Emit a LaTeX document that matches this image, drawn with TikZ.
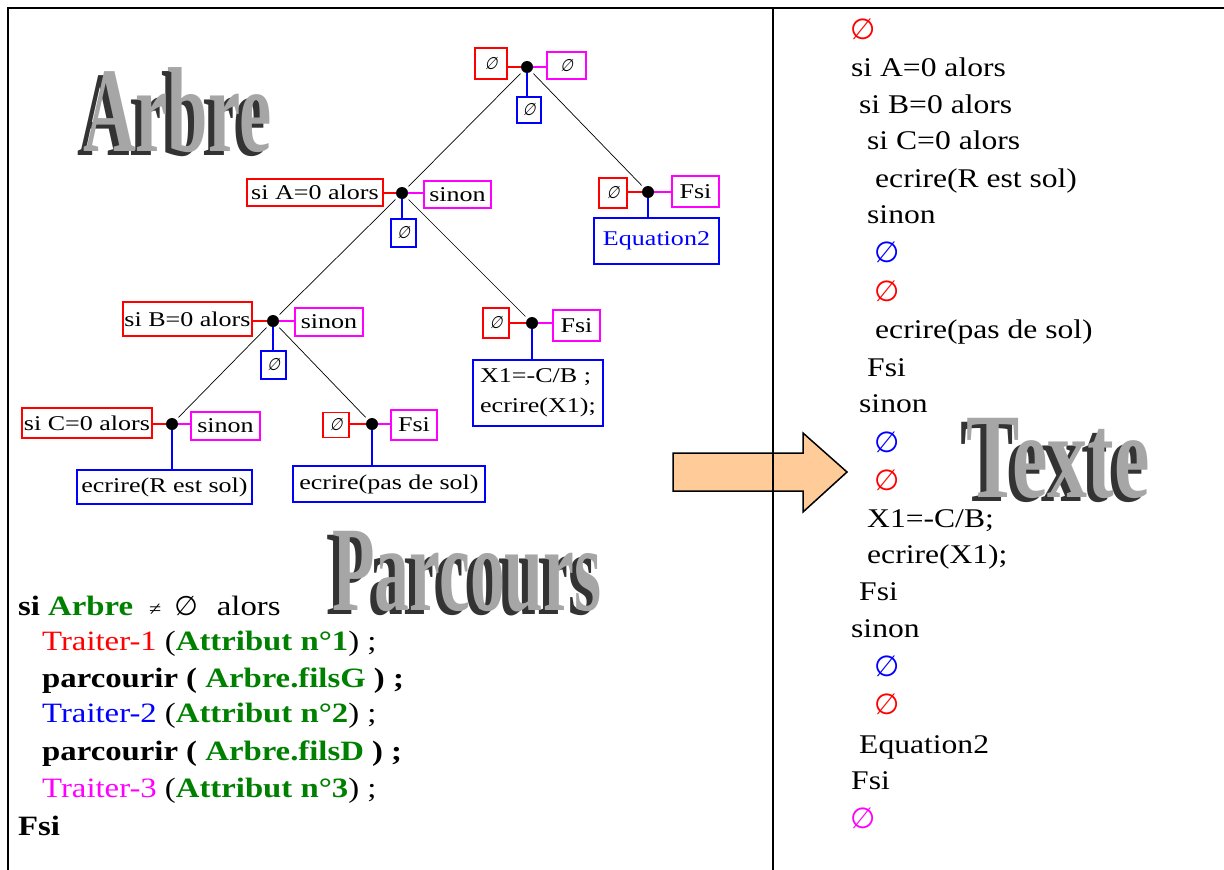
\documentclass[tikz,border=0pt]{standalone}
\usepackage{fontspec}
\usepackage{graphicx}
\setmainfont{Liberation Serif}[FakeStretch=1.17]
\newfontfamily\treefont{Liberation Serif}[FakeStretch=1.24]
\newfontfamily\symf{DejaVu Sans}
\newfontfamily\treeempty{DejaVu Sans}[FakeSlant=0.25,FakeStretch=0.85]
\newfontfamily\wafont{Liberation Serif}
\definecolor{cgreen}{RGB}{0,128,0}
\definecolor{cred}{RGB}{255,0,0}
\definecolor{cblue}{RGB}{0,0,255}
\definecolor{cmag}{RGB}{255,0,255}
\definecolor{arrowfill}{RGB}{255,204,153}
\newcommand\tempty{{\treeempty\fontsize{17}{17}\selectfont ∅}}
% word art: one text with a dark extrusion behind a silver face
\newcommand\wart[2]{%
  \rlap{\textcolor{black!80}{\scalebox{#1}[1]{#2}}}%
  \kern6pt\raisebox{4pt}{\textcolor{black!35}{\scalebox{#1}[1]{#2}}}}
\tikzset{
  box/.style={draw, line width=1.6pt, inner sep=0pt, align=center,
    font=\treefont\fontsize{21}{30}\selectfont},
  rbox/.style={box, draw=cred},
  mbox/.style={box, draw=cmag},
  bbox/.style={box, draw=cblue},
  dotn/.style={circle, fill=black, inner sep=0pt, minimum size=12pt},
  rlink/.style={draw=cred, line width=1.5pt},
  mlink/.style={draw=cmag, line width=1.5pt},
  blink/.style={draw=cblue, line width=1.5pt},
  treeedge/.style={draw=black, line width=0.7pt, shorten <=3pt, shorten >=3pt},
  rtxt/.style={anchor=base west, inner sep=0pt, font=\fontsize{27}{27}\selectfont},
  ctxt/.style={anchor=base west, inner sep=0pt, font=\fontsize{28}{28}\selectfont},
  rsym/.style={inner sep=0pt, font=\symf\fontsize{29}{29}\selectfont},
  wart/.style={anchor=base west, inner sep=0pt,
    font=\wafont\bfseries\fontsize{121}{121}\selectfont},
  frame/.style={draw=black, line width=2pt}
}
\begin{document}
\begin{tikzpicture}[x=1pt,y=-1pt]
\useasboundingbox (0,0) rectangle (1224,870);
\fill[white] (0,0) rectangle (1224,870);

% ---------- word art titles ----------
\node[wart] (arbre) at (77,155) {\wart{0.60}{Arbre}};
\node[wart] (parc)  at (326,614) {\wart{0.575}{Parcours}};
\node[wart] (texte) at (960,501) {\wart{0.66}{Texte}};

% ---------- tree: dots ----------
\node[dotn] (d0) at (527,67) {};
\node[dotn] (d1) at (648,192) {};
\node[dotn] (d2) at (402,193) {};
\node[dotn] (d3) at (273,321) {};
\node[dotn] (d4) at (532,323) {};
\node[dotn] (d5) at (172,424) {};
\node[dotn] (d6) at (372,424) {};

% ---------- tree: boxes ----------
\node[rbox, minimum width=32pt, minimum height=31pt] (r0L) at (491,63.5) {\tempty};
\node[mbox, minimum width=39pt, minimum height=27pt] (r0R) at (566.5,65.5) {\tempty};
\node[bbox, minimum width=24pt, minimum height=26pt] (r0B) at (529,110) {\tempty};

\node[rbox, minimum width=28pt, minimum height=30pt] (r1L) at (613,193) {\tempty};
\node[mbox, minimum width=47pt, minimum height=31pt] (r1R) at (695.5,191.5) {Fsi};
\node[bbox, minimum width=125pt, minimum height=46pt, text=cblue] (r1B) at (656.5,241) {Equation2};

\node[rbox, minimum width=136pt, minimum height=27pt] (r2L) at (315,192.5) {si A=0 alors};
\node[mbox, minimum width=67pt, minimum height=27pt] (r2R) at (457.5,194.5) {sinon};
\node[bbox, minimum width=25pt, minimum height=28pt] (r2B) at (403.5,233) {\tempty};

\node[rbox, minimum width=129pt, minimum height=34pt] (r3L) at (187.5,319) {si B=0 alors};
\node[mbox, minimum width=68pt, minimum height=28pt] (r3R) at (329,322) {sinon};
\node[bbox, minimum width=25pt, minimum height=28pt] (r3B) at (273.5,365) {\tempty};

\node[rbox, minimum width=26pt, minimum height=30pt] (r4L) at (496,323) {\tempty};
\node[mbox, minimum width=47pt, minimum height=31pt] (r4R) at (576.5,325.5) {Fsi};
\node[bbox, minimum width=130pt, minimum height=66pt, align=left] (r4B) at (538,393) {X1=-C/B ;\\ecrire(X1);};

\node[rbox, minimum width=130pt, minimum height=30pt] (r5L) at (87,423) {si C=0 alors};
\node[mbox, minimum width=69pt, minimum height=28pt] (r5R) at (225.5,426) {sinon};
\node[bbox, minimum width=175pt, minimum height=34pt] (r5B) at (164.5,487) {ecrire(R est sol)};

\node[rbox, minimum width=26pt, minimum height=25pt] (r6L) at (336,425) {\tempty};
\node[mbox, minimum width=46pt, minimum height=30pt] (r6R) at (414,425) {Fsi};
\node[bbox, minimum width=192pt, minimum height=36pt] (r6B) at (389,484) {ecrire(pas de sol)};

% ---------- tree: connectors ----------
\foreach \i in {0,...,6} {
  \draw[rlink] (d\i) -- (d\i -| r\i L.east);
  \draw[mlink] (d\i) -- (d\i -| r\i R.west);
  \draw[blink] (d\i) -- (d\i |- r\i B.north);
}
\draw[treeedge] (d0) -- (d2);
\draw[treeedge] (d0) -- (d1);
\draw[treeedge] (d2) -- (d3);
\draw[treeedge] (d2) -- (d4);
\draw[treeedge] (d3) -- (d5);
\draw[treeedge] (d3) -- (d6);

% ---------- code (parcours) ----------
\node[ctxt] (c1) at (18,615) {\textbf{si} \textcolor{cgreen}{\textbf{Arbre}}\hspace{16pt}{\fontsize{19}{19}\selectfont ≠}\hspace{13pt}{\symf\fontsize{27}{27}\selectfont ∅}\hspace{19pt}alors};
\node[ctxt] (c2) at (42,650) {\textcolor{cred}{Traiter-1} (\textcolor{cgreen}{\textbf{Attribut n°1}}) ;};
\node[ctxt] (c3) at (42,687) {\textbf{parcourir ( \textcolor{cgreen}{Arbre.filsG} ) ;}};
\node[ctxt] (c4) at (42,722) {\textcolor{cblue}{Traiter-2} (\textcolor{cgreen}{\textbf{Attribut n°2}}) ;};
\node[ctxt] (c5) at (42,760) {\textbf{parcourir ( \textcolor{cgreen}{Arbre.filsD} ) ;}};
\node[ctxt] (c6) at (42,797) {\textcolor{cmag}{Traiter-3} (\textcolor{cgreen}{\textbf{Attribut n°3}}) ;};
\node[ctxt] (c7) at (18,835) {\textbf{Fsi}};

% ---------- text (right) ----------
\node[rsym, text=cred] (t0) at (863.5,29) {∅};
\node[rtxt] (t1) at (851,76) {si A=0 alors};
\node[rtxt] (t2) at (859,113) {si B=0 alors};
\node[rtxt] (t3) at (867,149) {si C=0 alors};
\node[rtxt] (t4) at (875,187) {ecrire(R est sol)};
\node[rtxt] (t5) at (867,223) {sinon};
\node[rsym, text=cblue] (t6) at (887.5,252.5) {∅};
\node[rsym, text=cred] (t7) at (887.5,291) {∅};
\node[rtxt] (t8) at (875,338) {ecrire(pas de sol)};
\node[rtxt] (t9) at (867,376) {Fsi};
\node[rtxt] (t10) at (859,412) {sinon};
\node[rsym, text=cblue] (t11) at (887.5,442.5) {∅};
\node[rsym, text=cred] (t12) at (887.5,480) {∅};
\node[rtxt] (t13) at (867,527) {X1=-C/B;};
\node[rtxt] (t14) at (867,563) {ecrire(X1);};
\node[rtxt] (t15) at (859,600) {Fsi};
\node[rtxt] (t16) at (851,637) {sinon};
\node[rsym, text=cblue] (t17) at (887.5,666.5) {∅};
\node[rsym, text=cred] (t18) at (887.5,704.5) {∅};
\node[rtxt] (t19) at (859,753) {Equation2};
\node[rtxt] (t20) at (851,789) {Fsi};
\node[rsym, text=cmag] (t21) at (863.5,818.5) {∅};

% ---------- arrow and frame ----------
\draw[fill=arrowfill, line width=1.5pt, line join=miter]
  (673,453) -- (803,453) -- (803,433) -- (847,472) -- (803,512) -- (803,491) -- (673,491) -- cycle;
\draw[frame] (1224,8) -- (8,8) -- (8,870);
\draw[frame] (773,8) -- (773,870);
\end{tikzpicture}
\end{document}
